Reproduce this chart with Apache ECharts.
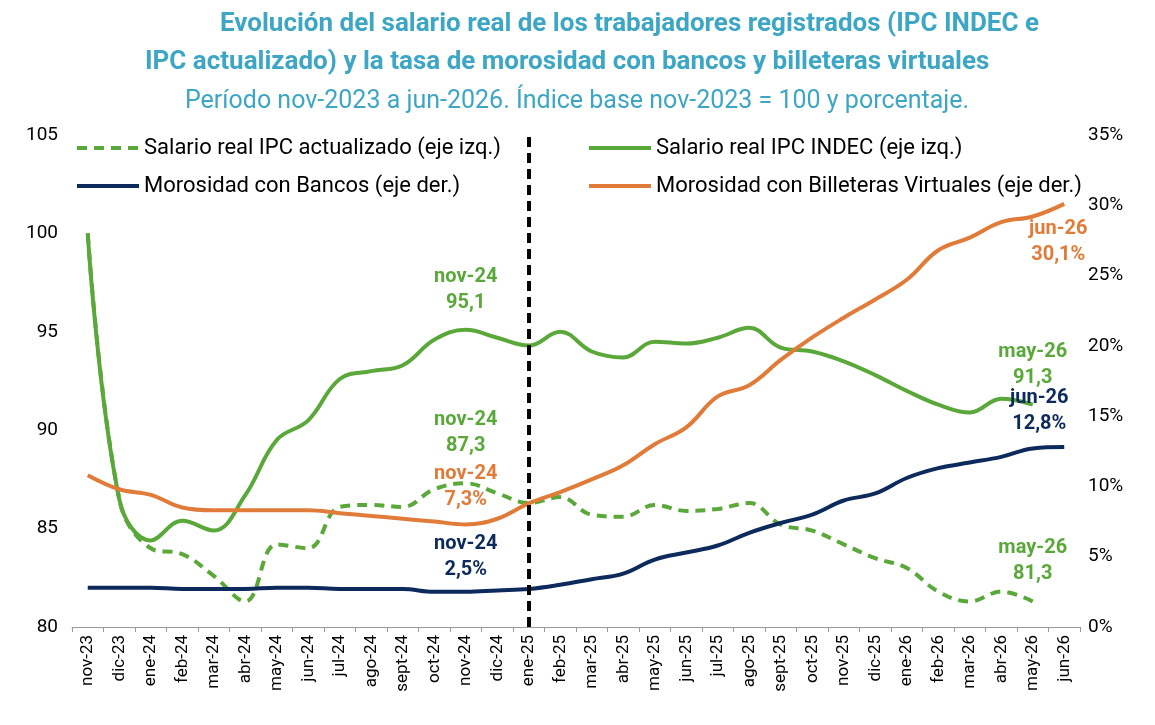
<!DOCTYPE html>
<html>
<head>
<meta charset="utf-8">
<script src="https://cdn.jsdelivr.net/npm/echarts@6/dist/echarts.min.js"></script>
<style>html,body{margin:0;background:#fff}#c{width:1155px;height:725px}</style>
</head>
<body>
<div id="c"></div>
<script>
'use strict';
const months = ['nov-23','dic-23','ene-24','feb-24','mar-24','abr-24','may-24','jun-24','jul-24','ago-24','sept-24','oct-24','nov-24','dic-24',
  'ene-25','feb-25','mar-25','abr-25','may-25','jun-25','jul-25','ago-25','sept-25','oct-25','nov-25','dic-25',
  'ene-26','feb-26','mar-26','abr-26','may-26','jun-26'];
const salarioIndec = [100,86.5,84.4,85.4,84.9,86.7,89.5,90.5,92.6,93.0,93.3,94.6,95.1,94.7,94.3,95.0,94.0,93.7,94.5,94.4,94.7,95.2,94.2,94.0,93.5,92.8,92.0,91.3,90.9,91.6,91.3,null];
const salarioActual = [100,86.5,84.0,83.7,82.6,81.3,84.2,84.0,86.1,86.2,86.1,87.0,87.3,86.8,86.3,86.6,85.7,85.6,86.2,85.9,86.0,86.3,85.2,84.9,84.2,83.5,83.0,81.8,81.3,81.8,81.3,null];
const moraBancos = [2.8,2.8,2.8,2.7,2.7,2.7,2.8,2.8,2.7,2.7,2.7,2.5,2.5,2.6,2.7,3.0,3.4,3.8,4.8,5.3,5.8,6.7,7.4,8.0,9.0,9.5,10.6,11.3,11.7,12.1,12.7,12.8];
const moraBilleteras = [10.8,9.8,9.4,8.5,8.3,8.3,8.3,8.3,8.1,7.9,7.7,7.5,7.3,7.7,8.8,9.6,10.5,11.5,13.0,14.2,16.4,17.2,19.0,20.6,22.0,23.3,24.7,26.8,27.7,28.8,29.2,30.1];

const GREEN = '#5BA83A', NAVY = '#0D2A5C', ORANGE = '#E07B39', TEAL = '#3DA6C4';
const font = 'Roboto';

function note(coord, text, color, offset) {
  return { coord: coord, symbol: 'circle', symbolSize: 2, itemStyle: { color: 'rgba(0,0,0,0)' },
    label: { show: true, position: 'inside', formatter: text, color: color, fontWeight: 'bold', fontSize: 20, fontFamily: font, lineHeight: 26, offset: offset } };
}
function legendItem(name, dashed) {
  return { name: name, itemStyle: { color: 'rgba(0,0,0,0)', borderWidth: 0 }, lineStyle: { width: 4, type: dashed ? [10, 7] : 'solid' } };
}

const chart = echarts.init(document.getElementById('c'));
chart.setOption({
  animation: false,
  title: [
    { text: 'Evolución del salario real de los trabajadores registrados (IPC INDEC e', left: 215, top: 6, textStyle: { color: TEAL, fontSize: 26, fontWeight: 'bold', fontFamily: font } },
    { text: 'IPC actualizado) y la tasa de morosidad con bancos y billeteras virtuales', left: 140, top: 44, textStyle: { color: TEAL, fontSize: 26, fontWeight: 'bold', fontFamily: font } },
    { text: 'Período nov-2023 a jun-2026. Índice base nov-2023 = 100 y porcentaje.', left: 180, top: 84, textStyle: { color: TEAL, fontSize: 25, fontWeight: 'normal', fontFamily: font } }
  ],
  legend: [
    { left: 70, top: 132, orient: 'vertical', itemGap: 16, itemWidth: 62, itemHeight: 4, textStyle: { fontSize: 22, fontFamily: font, color: '#000' },
      data: [legendItem('Salario real IPC actualizado (eje izq.)', true), legendItem('Morosidad con Bancos (eje der.)')] },
    { left: 582, top: 132, orient: 'vertical', itemGap: 16, itemWidth: 62, itemHeight: 4, textStyle: { fontSize: 22, fontFamily: font, color: '#000' },
      data: [legendItem('Salario real IPC INDEC (eje izq.)'), legendItem('Morosidad con Billeteras Virtuales (eje der.)')] }
  ],
  grid: { left: 72, right: 75, top: 135, bottom: 98 },
  xAxis: {
    type: 'category', data: months, boundaryGap: true,
    axisLine: { lineStyle: { color: '#999' } }, axisTick: { show: true, lineStyle: { color: '#999' } },
    axisLabel: { rotate: 90, fontSize: 17, fontFamily: font, color: '#000', interval: 0 }
  },
  yAxis: [
    { type: 'value', min: 80, max: 105, interval: 5, splitLine: { show: false }, axisLabel: { fontSize: 19, fontFamily: font, color: '#000', margin: 14 } },
    { type: 'value', min: 0, max: 35, interval: 5, splitLine: { show: false }, axisLabel: { fontSize: 19, fontFamily: font, color: '#000', formatter: '{value}%' } }
  ],
  series: [
    { name: 'Salario real IPC actualizado (eje izq.)', type: 'line', yAxisIndex: 0, data: salarioActual, smooth: 0.4, symbol: 'none',
      lineStyle: { color: GREEN, width: 4, type: [10, 7] }, itemStyle: { color: GREEN },
      markPoint: { data: [note([12, 87.3], 'nov-24\n87,3', GREEN, [0, -50]), note([30, 81.3], 'may-26\n81,3', GREEN, [0, -40])] },
      markLine: { symbol: 'none', silent: true, label: { show: false }, lineStyle: { color: '#000', width: 4, type: [10, 6] }, data: [{ xAxis: 'ene-25' }] } },
    { name: 'Salario real IPC INDEC (eje izq.)', type: 'line', yAxisIndex: 0, data: salarioIndec, smooth: 0.4, symbol: 'none',
      lineStyle: { color: GREEN, width: 4 }, itemStyle: { color: GREEN },
      markPoint: { data: [note([12, 95.1], 'nov-24\n95,1', GREEN, [0, -40]), note([30, 91.3], 'may-26\n91,3', GREEN, [0, -40])] } },
    { name: 'Morosidad con Bancos (eje der.)', type: 'line', yAxisIndex: 1, data: moraBancos, smooth: 0.4, symbol: 'none',
      lineStyle: { color: NAVY, width: 4 }, itemStyle: { color: NAVY },
      markPoint: { data: [note([12, 2.5], 'nov-24\n2,5%', NAVY, [0, -35]), note([31, 12.8], 'jun-26\n12,8%', NAVY, [-25, -36])] } },
    { name: 'Morosidad con Billeteras Virtuales (eje der.)', type: 'line', yAxisIndex: 1, data: moraBilleteras, smooth: 0.4, symbol: 'none',
      lineStyle: { color: ORANGE, width: 4 }, itemStyle: { color: ORANGE },
      markPoint: { data: [note([12, 7.3], 'nov-24\n7,3%', ORANGE, [0, -37]), note([31, 30.1], 'jun-26\n30,1%', ORANGE, [-6, 38])] } }
  ]
});
</script>
</body>
</html>
